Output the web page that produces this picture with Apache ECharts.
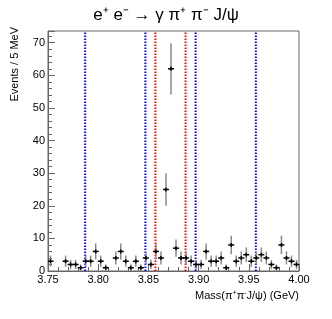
<!DOCTYPE html>
<html><head><meta charset="utf-8">
<script src="https://cdn.jsdelivr.net/npm/echarts@6/dist/echarts.min.js"></script>
<style>html,body{margin:0;padding:0;background:#fff}#c{width:332px;height:319px}</style>
</head><body><div id="c"></div>
<script>
// bin centres (GeV), 5 MeV bins from 3.75 to 4.00
var binCenters = [3.7525,3.7575,3.7625,3.7675,3.7725,3.7775,3.7825,3.7875,3.7925,3.7975,
  3.8025,3.8075,3.8125,3.8175,3.8225,3.8275,3.8325,3.8375,3.8425,3.8475,
  3.8525,3.8575,3.8625,3.8675,3.8725,3.8775,3.8825,3.8875,3.8925,3.8975,
  3.9025,3.9075,3.9125,3.9175,3.9225,3.9275,3.9325,3.9375,3.9425,3.9475,
  3.9525,3.9575,3.9625,3.9675,3.9725,3.9775,3.9825,3.9875,3.9925,3.9975];
var counts = [3,0,0,3,2,2,1,3,3,6,
  3,1,0,4,6,3,1,3,1,4,
  2,6,4,25,62,7,4,4,3,2,
  2,6,3,3,4,1,8,3,4,5,
  3,4,5,4,2,1,8,4,3,2];
var blueLines = [3.787, 3.847, 3.897, 3.957];
var redLines = [3.857, 3.887];
var xTicks = [3.75, 3.80, 3.85, 3.90, 3.95, 4.00];
var yTicks = [0, 10, 20, 30, 40, 50, 60, 70];

var pts = [];
for (var i = 0; i < counts.length; i++) {
  if (counts[i] > 0) pts.push([binCenters[i], counts[i], Math.sqrt(counts[i])]);
}
var YMAX = 73.6;

function vlineSeries(vals, color) {
  return {
    type: 'custom', silent: true, clip: true,
    data: vals.map(function (v) { return [v]; }),
    renderItem: function (params, api) {
      var x = api.value(0);
      var a = api.coord([x, 0]);
      var b = api.coord([x, YMAX]);
      return {type: 'line', shape: {x1: a[0], y1: a[1], x2: b[0], y2: b[1]},
        style: {stroke: color, lineWidth: 2, lineDash: [1.5, 1.5]}};
    }
  };
}

var chart = echarts.init(document.getElementById('c'));
var font = 'Liberation Sans, Arial, sans-serif';
chart.setOption({
  animation: false,
  title: {
    text: 'e\u207A e\u207B \u2192 \u03B3 \u03C0\u207A \u03C0\u207B J/\u03C8',
    left: 'center', top: 2,
    textStyle: {fontFamily: font, fontSize: 17, fontWeight: 'normal', color: '#000'}
  },
  grid: {left: 48, right: 33, top: 31, bottom: 48, show: true, borderColor: '#666', borderWidth: 1, backgroundColor: 'transparent'},
  xAxis: {
    type: 'value', min: 3.75, max: 4.0, interval: 0.05,
    axisLine: {lineStyle: {color: '#666', width: 1}},
    axisTick: {inside: true, length: 7, lineStyle: {color: '#666'}},
    minorTick: {show: true, splitNumber: 5, length: 4, lineStyle: {color: '#666'}},
    splitLine: {show: false},
    axisLabel: {margin: 3, fontFamily: font, fontSize: 11, color: '#000',
      formatter: function (v) { return v.toFixed(2); }}
  },
  yAxis: {
    type: 'value', min: 0, max: YMAX, interval: 10,
    axisLine: {show: true, lineStyle: {color: '#666', width: 1}},
    axisTick: {show: true, inside: true, length: 7, lineStyle: {color: '#666'}},
    minorTick: {show: true, splitNumber: 5, length: 4, lineStyle: {color: '#666'}},
    splitLine: {show: false},
    axisLabel: {margin: 3, fontFamily: font, fontSize: 11, color: '#000',
      formatter: function (v) { return yTicks.indexOf(Math.round(v * 100) / 100) >= 0 ? String(v) : ''; }}
  },
  graphic: [
    {type: 'text', x: 15, y: 27, rotation: Math.PI / 2,
      style: {text: 'Events / 5 MeV', fontFamily: font, fontSize: 11, fill: '#000', align: 'right', verticalAlign: 'middle'}},
    {type: 'text', x: 299, y: 296,
      style: {text: 'Mass(\u03C0{s|+}\u03C0{s|-}J/\u03C8) (GeV)', fontFamily: font, fontSize: 11, fill: '#000', align: 'right', verticalAlign: 'middle',
        rich: {s: {fontFamily: font, fontSize: 7, verticalAlign: 'top', padding: [0, 0, 5, 0]}}}}
  ],
  series: [
    vlineSeries(blueLines, '#0000ff'),
    vlineSeries(redLines, '#ff0000'),
    {
      type: 'custom', data: pts, silent: true, clip: true,
      renderItem: function (params, api) {
        var x = api.value(0), y = api.value(1), e = api.value(2);
        var c = api.coord([x, y]);
        var top = api.coord([x, y + e]);
        var bot = api.coord([x, Math.max(0, y - e)]);
        return {
          type: 'group',
          children: [
            {type: 'line', shape: {x1: c[0], y1: top[1], x2: c[0], y2: bot[1]}, style: {stroke: '#8a8a8a', lineWidth: 1.5}},
            {type: 'line', shape: {x1: c[0] - 3, y1: c[1], x2: c[0] + 3, y2: c[1]}, style: {stroke: '#000', lineWidth: 1.5}},
            {type: 'line', shape: {x1: c[0], y1: c[1] - 2, x2: c[0], y2: c[1] + 2}, style: {stroke: '#000', lineWidth: 1.5}}
          ]
        };
      }
    }
  ]
});
</script></body></html>
